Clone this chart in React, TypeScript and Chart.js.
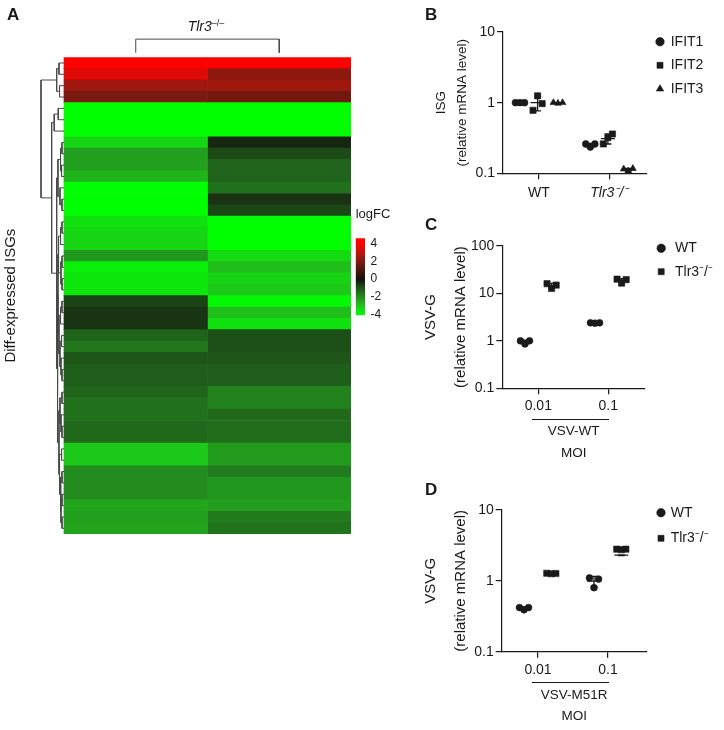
import React, { useEffect, useRef } from 'react';
import { Chart, registerables } from 'chart.js';

Chart.register(...registerables);

const FONT = '"Liberation Sans", Arial, Helvetica, sans-serif';
const INK = '#1a1a1a';
Chart.defaults.font.family = FONT;
Chart.defaults.color = INK;

// ================= Panel A: heatmap data =================
const heatColumns = ['Comparison 1', 'Comparison 2'];
const heatLogFCCol1 = [
  4, 3.5, 2.5, 1.85, -4, -4, -4, -3.3, -2.35, -2.35, -2.7, -4, -4, -4,
  -3.5, -3.3, -3.3, -2.2, -3.75, -3.6, -3.6, -0.75, -0.5, -0.5, -1.27, -1.6, -1.0, -1.15,
  -1.15, -1.27, -1.5, -1.5, -1.36, -1.36, -3.1, -3.1, -2.0, -2.0, -2.0, -2.45, -2.35, -2.45,
];
const heatLogFCCol2 = [
  4, 2.2, 2.5, 1.7, -4, -4, -4, -0.3, -0.85, -1.27, -1.27, -1.5, -0.48, -0.78,
  -4, -4, -4, -3.4, -2.9, -3.25, -3.1, -3.9, -2.9, -3.5, -0.92, -0.92, -1.0, -1.15,
  -1.15, -1.82, -1.82, -1.36, -1.45, -1.45, -2.27, -2.27, -1.7, -2.2, -2.2, -2.3, -1.7, -1.55,
];
// row dendrogram: [mergeHeight, left, right], leaves = row index
const rowDendrogram: any = [0.16,
  [0.051, [0.035, 0, 1], [0.031, 2, 3]],
  [0.086,
    [0.068, [0.04, 4, 5], 6],
    [0.051,
      [0.042, [0.024, [0.014, 7, 8], [0.017, 9, 10]], [0.028, 11, [0.014, 12, 13]]],
      [0.045,
        [0.042,
          [0.038, [0.024, [0.014, 14, 15], 16], [0.021, [0.014, 17, 18], [0.014, 19, 20]]],
          [0.035, [0.024, [0.014, 21, 22], 23], [0.028, [0.017, 24, 25], [0.021, 26, [0.014, 27, 28]]]]],
        [0.035,
          [0.028, [0.014, 29, 30], [0.021, 31, [0.014, 32, 33]]],
          [0.031, [0.017, 34, 35], [0.024, [0.014, 36, 37], [0.021, [0.014, 38, 39], [0.014, 40, 41]]]]]]]]];
const colDendrogramHeight = 1.2;
const logFCTicks = [-4, -2, 0, 2, 4];
const logFCBarRange = [-4.07, 4.6];

// ================= Panel B data =================
const isgGroups = ['WT', 'Tlr3\u207B/\u207B'];
const ifit1Values = [[1.0, 1.0, 1.0], [0.26, 0.235, 0.26]];
const ifit2Values = [[0.78, 1.25, 0.97], [0.26, 0.32, 0.36]];
const ifit3Values = [[1.0, 0.98, 1.0], [0.115, 0.108, 0.117]];
const ifit1Means = [1.0, 0.25];
const ifit2Means = [1.0, 0.31];
const ifit3Means = [0.99, 0.113];
const isgTicks = [0.1, 1, 10];

// ================= Panel C data =================
const moiLevels = ['0.01', '0.1'];
const vsvWtWT = [[1.0, 0.86, 1.0], [2.4, 2.35, 2.4]];
const vsvWtKO = [[16, 12.7, 15], [20, 16.5, 19.5]];
const vsvWtWTMeans = [0.95, 2.38];
const vsvWtKOMeans = [14.6, 18.7];
const vsvWtTicks = [0.1, 1, 10, 100];

// ================= Panel D data =================
const m51rWT = [[0.42, 0.39, 0.42], [1.1, 0.8, 1.06]];
const m51rKO = [[1.28, 1.26, 1.27], [2.8, 2.75, 2.8]];
const m51rWTMeans = [0.41, 0.99];
const m51rKOMeans = [1.27, 2.3];
const m51rTicks = [0.1, 1, 10];

// ================= colour scale =================
const LOGFC_STOPS: [number, number[]][] = [
  [-4, [0, 255, 0]], [-3, [32, 195, 27]], [-2, [35, 140, 30]], [-1, [30, 85, 25]],
  [0, [18, 18, 12]], [1, [75, 22, 14]], [2, [130, 25, 15]], [3, [190, 20, 10]], [4, [255, 0, 0]],
];
function logFCColor(v: number) {
  const c = Math.max(-4, Math.min(4, v));
  for (let i = 0; i < LOGFC_STOPS.length - 1; i++) {
    const [a, ca] = LOGFC_STOPS[i];
    const [b, cb] = LOGFC_STOPS[i + 1];
    if (c >= a && c <= b) {
      const t = (c - a) / (b - a);
      const rgb = ca.map((x, k) => Math.round(x + (cb[k] - x) * t));
      return `rgb(${rgb[0]},${rgb[1]},${rgb[2]})`;
    }
  }
  return 'rgb(0,0,0)';
}

function dendroWalk(tree: any, out: any[]): { y: number; h: number } {
  if (typeof tree === 'number') return { y: tree + 0.5, h: 0 };
  const [h, l, r] = tree;
  const a = dendroWalk(l, out);
  const b = dendroWalk(r, out);
  out.push({ x: -a.h, y: a.y }, { x: -h, y: a.y }, { x: -h, y: b.y }, { x: -b.h, y: b.y }, { x: -b.h, y: null });
  return { y: (a.y + b.y) / 2, h };
}

function heatmapConfig() {
  const cols = [heatLogFCCol1, heatLogFCCol2];
  const rows = heatLogFCCol1.length;
  const bars = cols.map((vals, ci) => ({
    type: 'bar',
    label: heatColumns[ci],
    data: vals.map((_, r) => ({ x: ci + 0.5, y: [r, r + 1] })),
    backgroundColor: vals.map(logFCColor),
    borderWidth: 0,
    grouped: false,
    barPercentage: 1,
    categoryPercentage: 1,
    order: 2,
  }));
  const rowPts: any[] = [];
  dendroWalk(rowDendrogram, rowPts);
  const gap = 0.4;
  const colPts = [
    { x: 0.5, y: -gap }, { x: 0.5, y: -gap - colDendrogramHeight },
    { x: 1.5, y: -gap - colDendrogramHeight }, { x: 1.5, y: -gap },
  ];
  const lineStyle = { type: 'line', pointRadius: 0, borderColor: '#4a4a4a', borderWidth: 1, tension: 0, spanGaps: false, clip: false, order: 1 };
  return {
    type: 'bar',
    data: {
      datasets: [
        ...bars,
        { ...lineStyle, label: 'rows', data: rowPts },
        { ...lineStyle, label: 'columns', data: colPts },
      ],
    },
    options: {
      animation: false,
      responsive: false,
      layout: { padding: { top: 57.3, right: 5, bottom: 6, left: 0 } },
      plugins: { legend: { display: false }, tooltip: { enabled: false } },
      scales: {
        x: {
          type: 'linear', min: -0.202, max: 2, offset: false, display: false,
          afterBuildTicks: (s: any) => { s.ticks = [{ value: -0.202 }, { value: 2 }]; },
        },
        y: {
          type: 'linear', min: 0, max: rows, reverse: true,
          afterFit: (s: any) => { s.width = 35; },
          ticks: { display: false },
          grid: { display: false },
          border: { display: false },
          title: { display: true, text: 'Diff-expressed ISGs', color: INK, font: { size: 15 }, padding: { top: 2, bottom: 0 } },
        },
      },
    },
  };
}

function colorbarConfig() {
  return {
    type: 'bar',
    data: {
      labels: ['logFC'],
      datasets: [{
        label: 'logFC',
        data: [[logFCBarRange[0], logFCBarRange[1]]],
        borderWidth: 0,
        barPercentage: 1,
        categoryPercentage: 1,
        backgroundColor: (ctx: any) => {
          const chart = ctx.chart;
          if (!chart.chartArea) return '#000';
          const y = chart.scales.y;
          const g = chart.ctx.createLinearGradient(0, y.getPixelForValue(-4), 0, y.getPixelForValue(4));
          LOGFC_STOPS.forEach(([v]) => g.addColorStop((v + 4) / 8, logFCColor(v)));
          return g;
        },
      }],
    },
    options: {
      animation: false,
      responsive: false,
      layout: { padding: { left: 7.7, top: 0, right: 0, bottom: 8 } },
      plugins: {
        legend: { display: false },
        tooltip: { enabled: false },
        title: { display: true, text: 'logFC', align: 'start', color: INK, font: { size: 13, weight: 'normal' }, padding: { top: 6.2, bottom: 16.5 } },
      },
      scales: {
        x: { display: false },
        y: {
          position: 'right', min: logFCBarRange[0], max: logFCBarRange[1], z: 1,
          afterBuildTicks: (s: any) => { s.ticks = logFCTicks.map((v) => ({ value: v })); },
          afterFit: (s: any) => { s.width = 30; },
          grid: { drawOnChartArea: true, drawTicks: false, color: 'rgba(255,255,255,0.8)', lineWidth: 1 },
          border: { display: false, dash: [2.5, 4.3] },
          ticks: { padding: 5.5, color: INK, font: { size: 12 }, callback: (v: any) => String(v) },
        },
      },
    },
  };
}

// ================= dot plots =================
const JITTER = [-0.065, 0, 0.065];
const MEAN_HALF = 0.1;
const CAP_HALF = 0.05;

function sd(vals: number[]) {
  const m = vals.reduce((a, b) => a + b, 0) / vals.length;
  return Math.sqrt(vals.reduce((a, b) => a + (b - m) * (b - m), 0) / (vals.length - 1));
}

function dotConfig(p: any) {
  const n = p.series.length;
  const points = p.series.map((s: any) => ({
    type: 'scatter',
    label: s.label,
    data: s.values.flatMap((reps: number[], ci: number) => reps.map((v, k) => ({ x: ci + s.offset + JITTER[k], y: v }))),
    pointStyle: s.style,
    pointRadius: s.radius,
    pointHoverRadius: s.radius,
    backgroundColor: INK,
    borderColor: INK,
    borderWidth: 0.6,
    showLine: false,
  }));
  const errs = p.series.map((s: any) => ({
    type: 'scatter',
    label: '_err',
    data: s.values.flatMap((reps: number[], ci: number) => {
      const m = s.means[ci];
      const e = sd(reps);
      const c = ci + s.offset;
      const g = { x: c, y: null };
      return [
        { x: c - MEAN_HALF, y: m }, { x: c + MEAN_HALF, y: m }, g,
        { x: c, y: m - e }, { x: c, y: m + e }, g,
        { x: c - CAP_HALF, y: m - e }, { x: c + CAP_HALF, y: m - e }, g,
        { x: c - CAP_HALF, y: m + e }, { x: c + CAP_HALF, y: m + e }, g,
      ];
    }),
    showLine: true,
    spanGaps: false,
    pointRadius: 0,
    pointHoverRadius: 0,
    borderColor: INK,
    borderWidth: 1.3,
  }));
  const available = p.canvas.left + p.canvas.width - p.plot.right;
  const padRight = Math.max(0, available - p.legend.width);
  const padBottom = Math.max(0, p.canvas.top + p.canvas.height - p.plot.bottom - p.xAxisHeight);
  const axisGrid = { display: true, drawOnChartArea: false, drawTicks: true, tickLength: 6, color: INK, lineWidth: 1.2 };
  const axisBorder = { display: true, color: INK, width: 1.2 };
  return {
    type: 'scatter',
    data: { datasets: [...points, ...errs] },
    options: {
      animation: false,
      responsive: false,
      layout: { padding: { top: p.legend.top, right: padRight, bottom: padBottom, left: 0 } },
      plugins: {
        tooltip: { enabled: false },
        legend: {
          position: 'right', align: 'start', maxWidth: p.legend.width,
          labels: {
            usePointStyle: true, boxWidth: p.legend.boxWidth, boxHeight: 6, padding: p.legend.pad,
            color: INK, font: { size: 14 },
            filter: (item: any) => item.datasetIndex < n,
          },
        },
      },
      scales: {
        x: {
          type: 'linear', min: p.xRange[0], max: p.xRange[1], offset: false,
          afterBuildTicks: (s: any) => { s.ticks = p.cats.map((_: any, i: number) => ({ value: i })); },
          afterFit: (s: any) => { s.height = p.xAxisHeight; },
          grid: axisGrid,
          border: axisBorder,
          ticks: {
            padding: p.xTickPad, color: INK, maxRotation: 0, autoSkip: false,
            font: (ctx: any) => ({ size: 14, style: p.italicTick === ctx.index ? 'italic' : 'normal' }),
            callback: (v: any) => p.cats[Math.round(Number(v))] ?? '',
          },
          title: p.xTitle
            ? { display: true, text: p.xTitle, color: INK, font: { size: 13.5, lineHeight: '21.6px' }, padding: { top: 0, bottom: 0 } }
            : { display: false },
        },
        y: {
          type: 'logarithmic', min: 0.1, max: p.yMax,
          afterBuildTicks: (s: any) => { s.ticks = p.yTicks.map((v: number) => ({ value: v })); },
          afterFit: (s: any) => { s.width = p.plot.left - p.canvas.left; },
          grid: axisGrid,
          border: axisBorder,
          ticks: { padding: 2, color: INK, font: { size: 14, lineHeight: 2 }, callback: (v: any) => String(v) },
          title: {
            display: true, text: p.yTitle, color: INK,
            font: { size: p.yTitleSize, lineHeight: `${p.yTitleLH}px` },
            padding: { top: p.yTitlePad, bottom: 0 },
          },
        },
      },
    },
  };
}

const panelB = {
  canvas: { left: 405, top: 16, width: 319, height: 198 },
  plot: { left: 503, right: 646.7, top: 30, bottom: 173.3 },
  xRange: [-0.512, 1.532], xAxisHeight: 40.7, xTickPad: 5.6, italicTick: 1,
  yMax: 10, yTicks: isgTicks,
  yTitle: ['ISG', '(relative mRNA level)'], yTitleSize: 13.5, yTitleLH: 21, yTitlePad: 26.2,
  xTitle: null,
  legend: { pad: 9.6, boxWidth: 7.4, top: 9.1, width: 62 },
  cats: isgGroups,
  series: [
    { label: 'IFIT1', style: 'circle', radius: 3.4, offset: -0.27, values: ifit1Values, means: ifit1Means },
    { label: 'IFIT2', style: 'rect', radius: 4.4, offset: -0.02, values: ifit2Values, means: ifit2Means },
    { label: 'IFIT3', style: 'triangle', radius: 3.9, offset: 0.27, values: ifit3Values, means: ifit3Means },
  ],
};

const panelC = {
  canvas: { left: 405, top: 230, width: 319, height: 234 },
  plot: { left: 502.3, right: 645, top: 244, bottom: 388.3 },
  xRange: [-0.514, 1.524], xAxisHeight: 75.8, xTickPad: 4, italicTick: -1,
  yMax: 100, yTicks: vsvWtTicks,
  yTitle: ['VSV-G', '(relative mRNA level)'], yTitleSize: 15, yTitleLH: 30, yTitlePad: 11,
  xTitle: ['VSV-WT', 'MOI'],
  legend: { pad: 9.4, boxWidth: 13.6, top: 1.9, width: 72 },
  cats: moiLevels,
  series: [
    { label: 'WT', style: 'circle', radius: 3.4, offset: -0.19, values: vsvWtWT, means: vsvWtWTMeans },
    { label: 'Tlr3\u207B/\u207B', style: 'rect', radius: 4.4, offset: 0.19, values: vsvWtKO, means: vsvWtKOMeans },
  ],
};

const panelD = {
  canvas: { left: 405, top: 494, width: 319, height: 234 },
  plot: { left: 501.7, right: 646.7, top: 508, bottom: 651.7 },
  xRange: [-0.519, 1.553], xAxisHeight: 75.8, xTickPad: 4, italicTick: -1,
  yMax: 10, yTicks: m51rTicks,
  yTitle: ['VSV-G', '(relative mRNA level)'], yTitleSize: 15, yTitleLH: 30, yTitlePad: 11,
  xTitle: ['VSV-M51R', 'MOI'],
  legend: { pad: 11.6, boxWidth: 5.4, top: 0.1, width: 66 },
  cats: moiLevels,
  series: [
    { label: 'WT', style: 'circle', radius: 3.4, offset: -0.2, values: m51rWT, means: m51rWTMeans },
    { label: 'Tlr3\u207B/\u207B', style: 'rect', radius: 4.4, offset: 0.19, values: m51rKO, means: m51rKOMeans },
  ],
};

function ChartCanvas({ box, make }: { box: { left: number; top: number; width: number; height: number }; make: () => any }) {
  const ref = useRef<HTMLCanvasElement>(null);
  useEffect(() => {
    const chart = new Chart(ref.current as HTMLCanvasElement, make());
    return () => chart.destroy();
  }, []);
  return (
    <canvas
      ref={ref}
      width={box.width}
      height={box.height}
      style={{ position: 'absolute', left: box.left, top: box.top, width: box.width, height: box.height }}
    />
  );
}

const letterStyle: React.CSSProperties = { position: 'absolute', fontWeight: 'bold', fontSize: 17, lineHeight: '17px' };

export default function App() {
  return (
    <div style={{ position: 'absolute', left: 0, top: 0, width: 724, height: 730, background: '#fff', overflow: 'hidden', fontFamily: FONT, color: INK }}>
      <ChartCanvas box={{ left: 0, top: 0, width: 356, height: 540 }} make={heatmapConfig} />
      <ChartCanvas box={{ left: 348, top: 200, width: 47, height: 128 }} make={colorbarConfig} />
      <ChartCanvas box={panelB.canvas} make={() => dotConfig(panelB)} />
      <ChartCanvas box={panelC.canvas} make={() => dotConfig(panelC)} />
      <ChartCanvas box={panelD.canvas} make={() => dotConfig(panelD)} />

      <div style={{ ...letterStyle, left: 7, top: 6 }}>A</div>
      <div style={{ ...letterStyle, left: 425, top: 6 }}>B</div>
      <div style={{ ...letterStyle, left: 425, top: 216 }}>C</div>
      <div style={{ ...letterStyle, left: 425, top: 481 }}>D</div>

      <div style={{ position: 'absolute', left: 149, width: 114, top: 17.4, textAlign: 'center', fontSize: 14, lineHeight: '18px', fontStyle: 'italic' }}>
        Tlr3<span style={{ fontSize: 9, position: 'relative', top: '-0.55em', fontStyle: 'normal' }}>–/–</span>
      </div>

      <div style={{ position: 'absolute', left: 531.7, width: 77.3, top: 418.7, height: 0, borderTop: `1.2px solid ${INK}` }} />
      <div style={{ position: 'absolute', left: 531.7, width: 77.3, top: 682.1, height: 0, borderTop: `1.2px solid ${INK}` }} />
    </div>
  );
}
